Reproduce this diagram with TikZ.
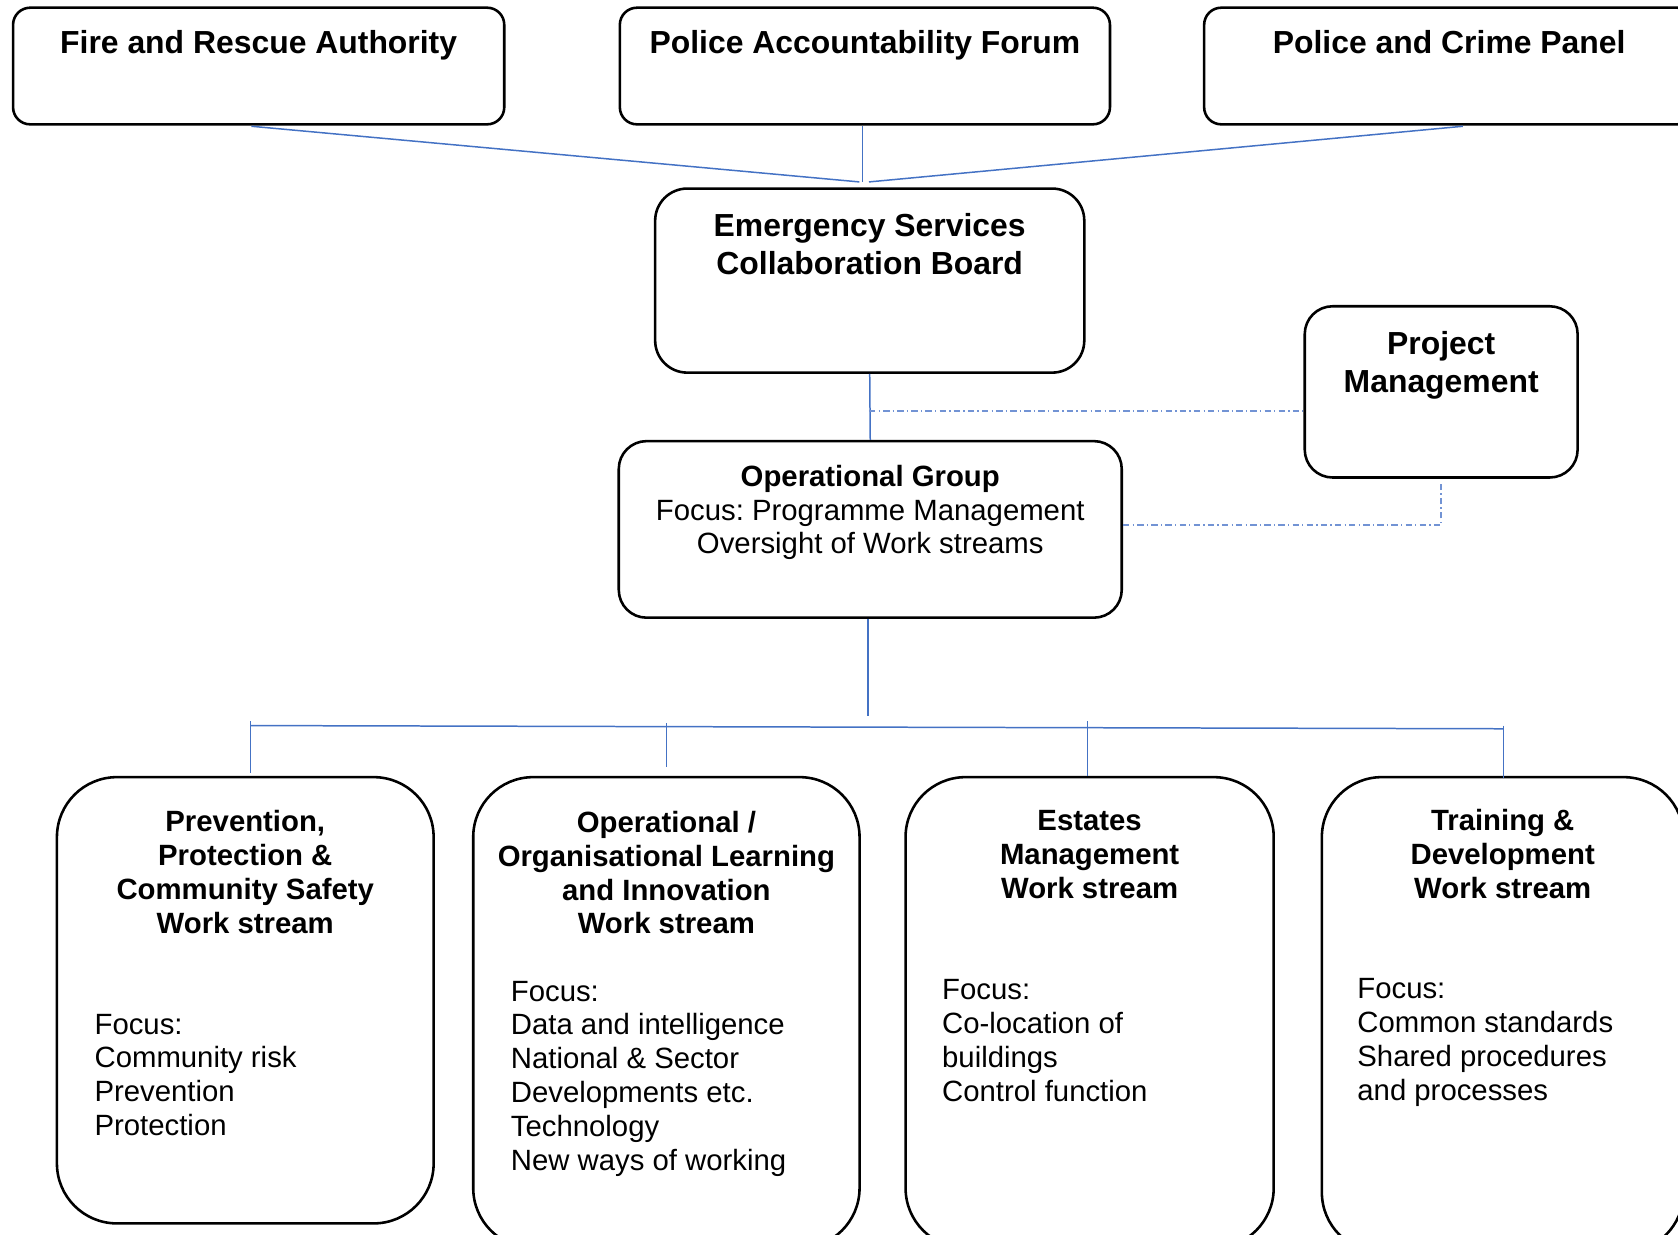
\documentclass[tikz,border=0pt]{standalone}
\usepackage{fontspec}
\setmainfont{Liberation Sans}
\usepackage{tikz}
\usetikzlibrary{calc,positioning}
\definecolor{linkblue}{RGB}{68,114,196}
\definecolor{dotblue}{RGB}{114,147,212}
\frenchspacing

\begin{document}
\begin{tikzpicture}[x=0.5pt,y=-0.5pt]
	\tikzstyle{box} = [draw, line width=1.2pt, rectangle, rounded corners=8pt, anchor=north west, inner sep=0pt]
	\tikzstyle{bigtext} = [font=\fontsize{14.9}{17.5}\selectfont\bfseries, align=center, inner sep=0pt, anchor=north]
	\tikzstyle{title} = [font=\fontsize{13.7}{15.8}\selectfont\bfseries, align=center, inner sep=0pt, anchor=north]
	\tikzstyle{focus} = [font=\fontsize{13.7}{15.8}\selectfont, align=left, inner sep=0pt, anchor=north west]
	\tikzstyle{link} = [draw=linkblue, line width=0.7pt]
	\tikzstyle{dotlink} = [draw=dotblue, line width=0.7pt, dash pattern=on 3pt off 1.5pt on 0.6pt off 1.5pt]

	\useasboundingbox (0,0) rectangle (1568,1154);
	\clip (0,0) rectangle (1568,1154);

	% top row
	\node [box, minimum width=229.5pt, minimum height=54.5pt] (fra) at (11,6) {};
	\node [bigtext, below = 11.2pt of fra.north] (fra-t) {Fire and Rescue Authority};
	\node [box, minimum width=229pt, minimum height=54.5pt] (paf) at (578,6) {};
	\node [bigtext, below = 11.2pt of paf.north] (paf-t) {Police Accountability Forum};
	\node [box, minimum width=229pt, minimum height=54.5pt] (pcp) at (1124,6) {};
	\node [bigtext, below = 11.2pt of pcp.north] (pcp-t) {Police and Crime Panel};

	% board, project management, operational group
	\node [box, rounded corners=15pt, minimum width=200.5pt, minimum height=86pt] (escb) at (611,175) {};
	\node [bigtext, below = 12.2pt of escb.north] (escb-t) {Emergency Services\\Collaboration Board};
	\node [box, rounded corners=13pt, minimum width=127.5pt, minimum height=80pt] (pm) at (1218,285) {};
	\node [bigtext, below = 12.2pt of pm.north] (pm-t) {Project\\Management};
	\node [box, rounded corners=13pt, minimum width=235pt, minimum height=82.5pt] (og) at (577,411) {};
	\node [focus, anchor=north, align=center, below = 11.6pt of og.north] (og-t) {\textbf{Operational Group}\\Focus: Programme Management\\Oversight of Work streams};

	% work streams
	\node [box, rounded corners=28pt, minimum width=176pt, minimum height=208.5pt] (ws1) at (52,725) {};
	\node [title, below = 16pt of ws1.north] (ws1-t) {Prevention,\\Protection \&\\Community Safety\\Work stream};
	\node [focus, below right = 111pt and 18pt of ws1.north west] (ws1-f) {Focus:\\Community risk\\Prevention\\Protection};

	\node [box, rounded corners=28pt, minimum width=180.5pt, minimum height=220pt] (ws2) at (441,725) {};
	\node [title, below = 16.3pt of ws2.north] (ws2-t) {Operational /\\Organisational Learning\\and Innovation\\Work stream};
	\node [focus, below right = 95.6pt and 18pt of ws2.north west] (ws2-f) {Focus:\\Data and intelligence\\National \& Sector\\Developments etc.\\Technology\\New ways of working};

	\node [box, rounded corners=28pt, minimum width=172pt, minimum height=220pt] (ws3) at (845,725) {};
	\node [title, below = 16pt of ws3.north] (ws3-t) {Estates\\Management\\Work stream};
	\node [focus, below right = 95pt and 17.5pt of ws3.north west] (ws3-f) {Focus:\\Co-location of\\buildings\\Control function};

	\node [box, rounded corners=28pt, minimum width=169pt, minimum height=222pt] (ws4) at (1234,725) {};
	\node [title, below = 15.6pt of ws4.north] (ws4-t) {Training \&\\Development\\Work stream};
	\node [focus, below right = 94.6pt and 17pt of ws4.north west] (ws4-f) {Focus:\\Common standards\\Shared procedures\\and processes};

	% connector ends
	\coordinate (fra-foot) at (235,118);
	\coordinate (paf-foot) at (806,118);
	\coordinate (pcp-foot) at (1367,118);
	\coordinate (join-l) at (803,170);
	\coordinate (join-m) at (806,170);
	\coordinate (join-r) at (812,170);
	\coordinate (pm-tap) at (812,384);
	\coordinate (og-foot) at (811,669);
	\coordinate (bar-l) at (234,678);
	\coordinate (bar-r) at (1405,681);
	\coordinate (t1a) at (234,674);
	\coordinate (t1b) at (234,722);
	\coordinate (t2a) at (623,676);
	\coordinate (t2b) at (623,717);
	\coordinate (t3a) at (1016,674);
	\coordinate (t3b) at (1016,725);
	\coordinate (t4a) at (1405,678);
	\coordinate (t4b) at (1405,727);

	\draw [link] (fra-foot) -- (join-l);
	\draw [link] (paf-foot) -- (join-m);
	\draw [link] (pcp-foot) -- (join-r);
	\draw [link] (escb.south) -- (og.north);
	\draw [dotlink] (pm-tap) -- (pm-tap -| pm.west);
	\draw [dotlink] ([yshift=2pt]og.east) -| ([yshift=-2pt]pm.south);
	\draw [link] (og-foot |- og.south) -- (og-foot);
	\draw [link] (bar-l) -- (bar-r);
	\draw [link] (t1a) -- (t1b);
	\draw [link] (t2a) -- (t2b);
	\draw [link] (t3a) -- (t3b);
	\draw [link] (t4a) -- (t4b);

\end{tikzpicture}
\end{document}
